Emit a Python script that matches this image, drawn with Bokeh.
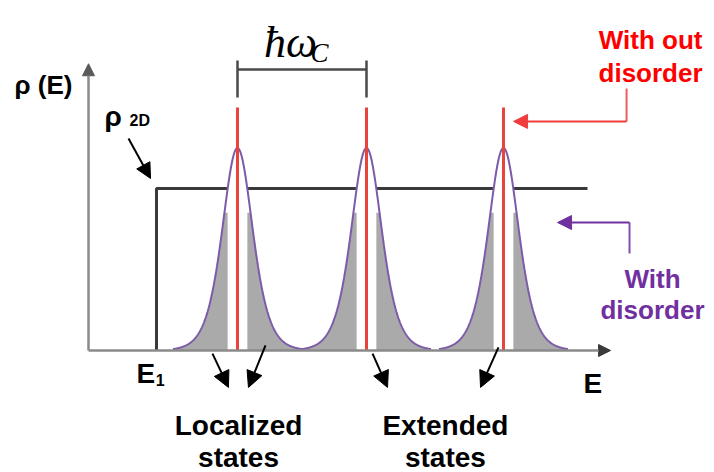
import numpy as np
from bokeh.plotting import figure
from bokeh.models import Range1d, Arrow, NormalHead
from bokeh.core.properties import value
from bokeh.embed import file_html
from bokeh.resources import INLINE

# ---- data (energy in arbitrary units, density in units of rho_2D) ----
E1 = 0.527
landau_E = [1.155, 2.155, 3.217]
step_height = 1.0
step_end = 3.868
peak_height = 1.25
width_param = 0.158
tail_half = 0.5
band_half = 0.074
gray_cap = 0.85
delta_height = 1.5
axis_E_max = 4.047
axis_rho_max = 1.77

# annotation positions
hw_bracket_y = 1.735
hw_tick = [1.562, 1.79]

FONT = value("Liberation Sans")
SERIF = value("Liberation Serif")

p = figure(width=714, height=472, output_backend="svg", toolbar_location=None,
           x_range=Range1d(-0.6822, 4.8527), y_range=Range1d(-0.7531, 2.1605),
           min_border=0)
p.xaxis.visible = False
p.yaxis.visible = False
p.xgrid.visible = False
p.ygrid.visible = False
p.outline_line_color = None
p.background_fill_color = "white"

# step density of states
p.line([E1, E1, step_end], [0, step_height, step_height], line_color="#3a3a3a", line_width=3)

# broadened Landau levels
curves = []
for c in landau_E:
    xs = np.linspace(c - tail_half, c + tail_half, 400)
    g = peak_height / np.cosh((xs - c) / width_param) ** 2
    curves.append((xs, g))
    p.varea(x=xs, y1=np.zeros_like(xs), y2=g, fill_color="white")
for c, (xs, g) in zip(landau_E, curves):
    for side in (-1, 1):
        m = (xs <= c - band_half) if side < 0 else (xs >= c + band_half)
        p.varea(x=xs[m], y1=np.zeros(m.sum()), y2=np.minimum(g[m], gray_cap),
                fill_color="#aaaaaa")
for xs, g in curves:
    p.line(xs, g, line_color="#7d5ba8", line_width=2)

# delta-function levels (no disorder)
p.segment(x0=landau_E, y0=[0] * 3, x1=landau_E, y1=[delta_height] * 3,
          line_color="#e8443c", line_width=3)

# axes
p.add_layout(Arrow(end=NormalHead(size=12, fill_color="#5a5a5a", line_color="#5a5a5a"),
                   x_start=0, y_start=0, x_end=0, y_end=axis_rho_max,
                   line_color="#8a8a8a", line_width=2.5))
p.add_layout(Arrow(end=NormalHead(size=12, fill_color="#3a3a3a", line_color="#3a3a3a"),
                   x_start=0, y_start=0, x_end=axis_E_max, y_end=0,
                   line_color="#8a8a8a", line_width=2.5))

# hbar omega_c bracket
p.line([landau_E[0], landau_E[1]], [hw_bracket_y, hw_bracket_y], line_color="#4a4a4a", line_width=2.5)
p.segment(x0=landau_E[:2], y0=[hw_tick[0]] * 2, x1=landau_E[:2], y1=[hw_tick[1]] * 2,
          line_color="#4a4a4a", line_width=2.5)
p.text(x=[1.36], y=[1.901], text=["ħω"], text_font=SERIF, text_font_style="italic",
       text_font_size="44px", text_color="black", text_baseline="alphabetic")
p.text(x=[1.72], y=[1.835], text=["C"], text_font=SERIF, text_font_style="italic",
       text_font_size="27px", text_color="black", text_baseline="alphabetic")

# labels
def lab(x, y, t, size="28px", color="black", align="left", baseline="middle"):
    p.text(x=[x], y=[y], text=[t], text_font=FONT, text_font_style="bold",
           text_font_size=size, text_color=color, text_align=align, text_baseline=baseline)

lab(-0.574, 1.636, "ρ (E)", "26px")
lab(0.124, 1.444, "ρ", "28px")
lab(0.318, 1.42, "2D", "16px")
lab(0.372, -0.142, "E", "28px")
lab(0.522, -0.18, "1", "16px")
lab(3.837, -0.204, "E", "28px")
lab(1.163, -0.46, "Localized", "28px", align="center")
lab(1.163, -0.66, "states", "28px", align="center")
lab(2.767, -0.46, "Extended", "28px", align="center")
lab(2.767, -0.66, "states", "28px", align="center")
lab(4.357, 1.914, "With out", "26px", "#ff0000", "center")
lab(4.357, 1.716, "disorder", "26px", "#ff0000", "center")
lab(4.372, 0.444, "With", "26px", "#7030a0", "center")
lab(4.372, 0.247, "disorder", "26px", "#7030a0", "center")

# arrows
def arr(x0, y0, x1, y1, color="black", size=16, width=2):
    p.add_layout(Arrow(end=NormalHead(size=size, fill_color=color, line_color=color),
                       x_start=x0, y_start=y0, x_end=x1, y_end=y1,
                       line_color=color, line_width=width))

arr(0.310, 1.309, 0.481, 1.062, size=15)
arr(0.961, -0.019, 1.085, -0.228)
arr(1.372, 0.031, 1.240, -0.228)
arr(2.202, -0.019, 2.318, -0.228)
arr(3.178, 0.019, 3.039, -0.228)

# callout arrows
p.line([4.171, 4.171], [1.617, 1.414], line_color="#f05a5a", line_width=2)
arr(4.171, 1.414, 3.295, 1.414, color="#f03c3c", size=14, width=2)
p.line([4.194, 4.194], [0.599, 0.790], line_color="#8050b0", line_width=2)
arr(4.194, 0.790, 3.636, 0.790, color="#7030a0", size=14, width=2)

open("out.html", "w").write(file_html(p, INLINE))
